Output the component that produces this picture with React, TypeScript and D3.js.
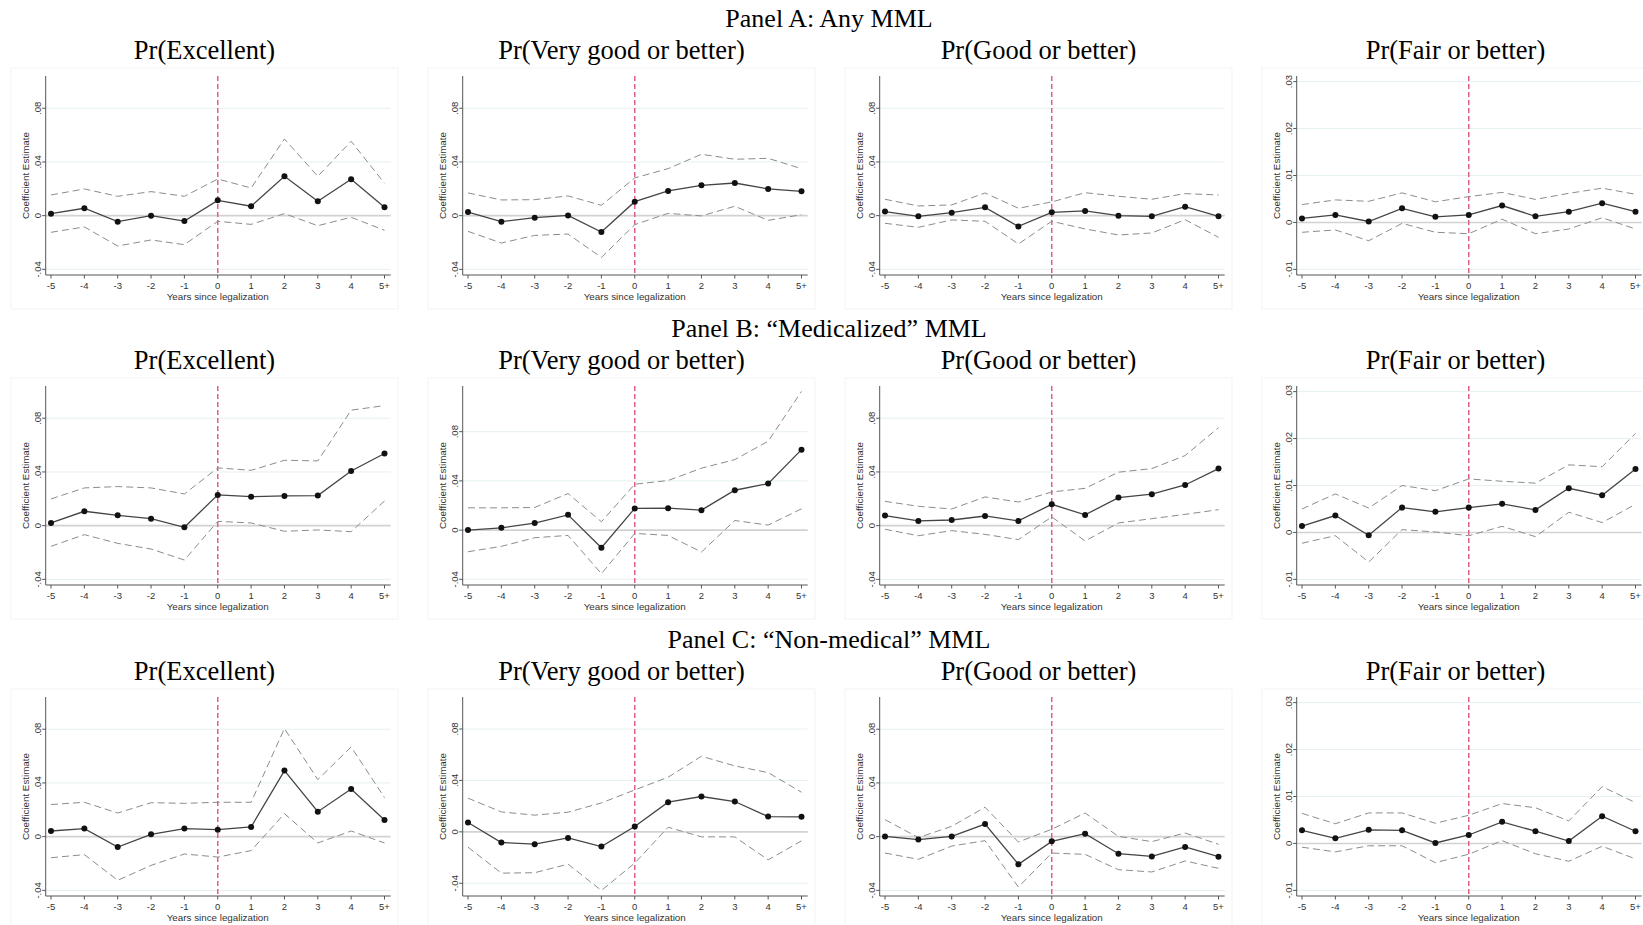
import React from 'react';
import * as d3 from 'd3';

// x categories and labels
const YEARS = ['-5', '-4', '-3', '-2', '-1', '0', '1', '2', '3', '4', '5+'];
const PANEL_TITLES = ['Panel A: Any MML', 'Panel B: \u201cMedicalized\u201d MML', 'Panel C: \u201cNon-medical\u201d MML'];
const OUTCOMES = ['Pr(Excellent)', 'Pr(Very good or better)', 'Pr(Good or better)', 'Pr(Fair or better)'];
const X_TITLE = 'Years since legalization';
const Y_TITLE = 'Coefficient Estimate';

const Y_TICKS_MAIN = [-0.04, 0, 0.04, 0.08];
const Y_LABELS_MAIN = ['-.04', '0', '.04', '.08'];
const Y_TICKS_FAIR = [-0.01, 0, 0.01, 0.02, 0.03];
const Y_LABELS_FAIR = ['-.01', '0', '.01', '.02', '.03'];

// Panel A: Any MML
const A1_EST = [0.0015, 0.0055, -0.0045, 0.0, -0.004, 0.0114, 0.007, 0.0293, 0.0107, 0.0271, 0.0062];
const A1_HI = [0.0154, 0.0199, 0.0144, 0.0179, 0.0144, 0.0273, 0.0206, 0.0571, 0.0293, 0.0554, 0.0241];
const A1_LO = [-0.0124, -0.0084, -0.0226, -0.0181, -0.0216, -0.0042, -0.0065, 0.0015, -0.0075, -0.0012, -0.0109];

const A2_EST = [0.0027, -0.0045, -0.0015, 0.0002, -0.0122, 0.0104, 0.0184, 0.0226, 0.0243, 0.0199, 0.0181];
const A2_HI = [0.0169, 0.0117, 0.0119, 0.0147, 0.0077, 0.0281, 0.035, 0.0457, 0.042, 0.0427, 0.035];
const A2_LO = [-0.0117, -0.0204, -0.0147, -0.0137, -0.0311, -0.0067, 0.0017, -0.0002, 0.007, -0.0035, 0.0007];

const A3_EST = [0.003, -0.0005, 0.0022, 0.0062, -0.008, 0.0025, 0.0035, 0.0, -0.0005, 0.0067, -0.0005];
const A3_HI = [0.0122, 0.0072, 0.008, 0.0169, 0.0055, 0.0102, 0.0171, 0.0144, 0.0122, 0.0164, 0.0154];
const A3_LO = [-0.0057, -0.0087, -0.0032, -0.0042, -0.0211, -0.0042, -0.0099, -0.0144, -0.0129, -0.003, -0.0161];

const A4_EST = [0.00085, 0.0016, 0.0002, 0.003, 0.0012, 0.0016, 0.0036, 0.0013, 0.0023, 0.0041, 0.0023];
const A4_HI = [0.0038, 0.0048, 0.0045, 0.0063, 0.0044, 0.0055, 0.0064, 0.0049, 0.0062, 0.0073, 0.006];
const A4_LO = [-0.0021, -0.0016, -0.0039, -0.0002, -0.0021, -0.0024, 0.0007, -0.0024, -0.0014, 0.001, -0.0014];

// Panel B: Medicalized MML
const B1_EST = [0.002, 0.0107, 0.0077, 0.0052, -0.0012, 0.0229, 0.0216, 0.0221, 0.0224, 0.0407, 0.0537];
const B1_HI = [0.0199, 0.0281, 0.0291, 0.0281, 0.0236, 0.043, 0.0412, 0.0487, 0.0482, 0.086, 0.0894];
const B1_LO = [-0.0154, -0.0067, -0.0132, -0.0174, -0.0256, 0.0032, 0.002, -0.0042, -0.0032, -0.0045, 0.0184];

const B2_EST = [0.0, 0.0019, 0.0057, 0.0124, -0.0143, 0.0176, 0.0178, 0.0162, 0.0324, 0.0378, 0.0654];
const B2_HI = [0.0181, 0.0181, 0.0184, 0.0297, 0.0068, 0.0373, 0.0403, 0.0503, 0.0573, 0.0722, 0.1127];
const B2_LO = [-0.0176, -0.0132, -0.0062, -0.0043, -0.0354, -0.0027, -0.0043, -0.0178, 0.0078, 0.0041, 0.0173];

const B3_EST = [0.0075, 0.0035, 0.0042, 0.0072, 0.0035, 0.0159, 0.008, 0.0209, 0.0234, 0.0303, 0.0425];
const B3_HI = [0.0181, 0.0144, 0.0124, 0.0214, 0.0176, 0.0251, 0.0278, 0.0398, 0.0425, 0.0522, 0.073];
const B3_LO = [-0.0027, -0.0075, -0.0037, -0.0065, -0.0104, 0.0065, -0.0114, 0.002, 0.0052, 0.0084, 0.0119];

const B4_EST = [0.00135, 0.0036, -0.0006, 0.0053, 0.0044, 0.0053, 0.0061, 0.0048, 0.0094, 0.0079, 0.0135];
const B4_HI = [0.005, 0.0082, 0.0052, 0.01, 0.0089, 0.0114, 0.0109, 0.0105, 0.0144, 0.014, 0.0211];
const B4_LO = [-0.0023, -0.0007, -0.0063, 0.0006, 0.0001, -0.0007, 0.0013, -0.0009, 0.0043, 0.0021, 0.006];

// Panel C: Non-medical MML
const C1_EST = [0.0042, 0.006, -0.0077, 0.0017, 0.006, 0.0052, 0.0072, 0.0492, 0.0186, 0.0355, 0.0124];
const C1_HI = [0.0239, 0.0256, 0.0176, 0.0253, 0.0248, 0.0256, 0.0256, 0.0805, 0.0425, 0.0668, 0.0291];
const C1_LO = [-0.0157, -0.0134, -0.0325, -0.0214, -0.0129, -0.0152, -0.0104, 0.0171, -0.0047, 0.0042, -0.0047];

const C2_EST = [0.0073, -0.0083, -0.0096, -0.0047, -0.0114, 0.0041, 0.0231, 0.0275, 0.0236, 0.0119, 0.0117];
const C2_HI = [0.0262, 0.0155, 0.013, 0.0153, 0.0225, 0.0326, 0.0425, 0.0588, 0.0513, 0.0461, 0.0308];
const C2_LO = [-0.0119, -0.0321, -0.0318, -0.0251, -0.0456, -0.0243, 0.0036, -0.0039, -0.0039, -0.0218, -0.007];

const C3_EST = [0.0002, -0.0022, 0.0002, 0.0094, -0.0206, -0.0035, 0.0022, -0.0127, -0.0147, -0.0077, -0.0149];
const C3_HI = [0.0127, -0.0007, 0.0077, 0.0219, -0.004, 0.0055, 0.0176, 0.0002, -0.0037, 0.0027, -0.0057];
const C3_LO = [-0.0122, -0.0169, -0.007, -0.003, -0.0375, -0.0122, -0.0132, -0.0246, -0.0263, -0.0181, -0.0236];

const C4_EST = [0.0028, 0.0011, 0.0029, 0.0028, 0.0001, 0.0018, 0.0046, 0.0026, 0.0005, 0.0058, 0.0026];
const C4_HI = [0.0064, 0.0042, 0.0065, 0.0065, 0.0043, 0.006, 0.0085, 0.0076, 0.0048, 0.0121, 0.0087];
const C4_LO = [-0.0008, -0.0018, -0.0005, -0.0005, -0.0041, -0.0023, 0.0006, -0.0022, -0.0038, -0.0006, -0.0033];

// y ranges of the plot regions (stata pads a little beyond the ticks)
const DOM_MAIN: [number, number] = [-0.0442, 0.104];
const DOM_FAIR: [number, number] = [-0.0112, 0.0312];

const PANELS = [
  [
    { est: A1_EST, hi: A1_HI, lo: A1_LO, domain: DOM_MAIN },
    { est: A2_EST, hi: A2_HI, lo: A2_LO, domain: DOM_MAIN },
    { est: A3_EST, hi: A3_HI, lo: A3_LO, domain: DOM_MAIN },
    { est: A4_EST, hi: A4_HI, lo: A4_LO, domain: DOM_FAIR },
  ],
  [
    { est: B1_EST, hi: B1_HI, lo: B1_LO, domain: DOM_MAIN },
    { est: B2_EST, hi: B2_HI, lo: B2_LO, domain: [-0.0446, 0.1171] as [number, number] },
    { est: B3_EST, hi: B3_HI, lo: B3_LO, domain: DOM_MAIN },
    { est: B4_EST, hi: B4_HI, lo: B4_LO, domain: DOM_FAIR },
  ],
  [
    { est: C1_EST, hi: C1_HI, lo: C1_LO, domain: DOM_MAIN },
    { est: C2_EST, hi: C2_HI, lo: C2_LO, domain: [-0.0499, 0.1049] as [number, number] },
    { est: C3_EST, hi: C3_HI, lo: C3_LO, domain: DOM_MAIN },
    { est: C4_EST, hi: C4_HI, lo: C4_LO, domain: DOM_FAIR },
  ],
];

const ROW_OFF = [0, 310, 621];
const COL_W = 417;
const SANS = '"Liberation Sans", Arial, sans-serif';
const SERIF = '"Liberation Serif", "Times New Roman", serif';

function Panel(props: any) {
  const { row, col, est, hi, lo, domain } = props;
  const fair = col === 3;
  const ticks = fair ? Y_TICKS_FAIR : Y_TICKS_MAIN;
  const labels = fair ? Y_LABELS_FAIR : Y_LABELS_MAIN;

  const axisX = 45.7 + COL_W * col;
  const top = 76 + ROW_OFF[row];
  const bottom = 275 + ROW_OFF[row];
  const right = axisX + 345;

  const x = d3.scalePoint<string>().domain(YEARS).range([axisX + 5.3, axisX + 338.8]);
  const y = d3.scaleLinear().domain(domain).range([bottom, top]);
  const line = d3.line<number>()
    .x((d, i) => x(YEARS[i]) as number)
    .y(d => y(d));

  return (
    <g>
      <rect x={axisX - 34.7} y={top - 8} width={387} height={241} fill="none" stroke="#f3f3f3" strokeWidth={1} />
      {ticks.map((t, i) => (
        t === 0 ? null :
        <line key={'g' + i} x1={axisX} x2={right} y1={y(t)} y2={y(t)} stroke="#e6f0f1" strokeWidth={1} />
      ))}
      <line x1={axisX} x2={right} y1={y(0)} y2={y(0)} stroke="#d2d2d2" strokeWidth={1.6} />
      <line x1={x('0')} x2={x('0')} y1={top} y2={bottom} stroke="#e0607f" strokeWidth={1.5} strokeDasharray="5 3" />
      <path d={line(hi) || ''} fill="none" stroke="#8c8c8c" strokeWidth={1} strokeDasharray="7 4" />
      <path d={line(lo) || ''} fill="none" stroke="#8c8c8c" strokeWidth={1} strokeDasharray="7 4" />
      <path d={line(est) || ''} fill="none" stroke="#444" strokeWidth={1.3} />
      {est.map((v: number, i: number) => (
        <circle key={'m' + i} cx={x(YEARS[i])} cy={y(v)} r={3} fill="#111" />
      ))}
      {/* axes */}
      <line x1={axisX} x2={axisX} y1={top} y2={bottom} stroke="#555" strokeWidth={1} />
      <line x1={axisX} x2={right} y1={bottom} y2={bottom} stroke="#555" strokeWidth={1} />
      {ticks.map((t, i) => (
        <g key={'yt' + i}>
          <line x1={axisX - 3.5} x2={axisX} y1={y(t)} y2={y(t)} stroke="#555" />
          <text transform={`translate(${axisX - 5},${y(t)}) rotate(-90)`} textAnchor="middle"
            fontFamily={SANS} fontSize={9.5} fill="#333">{labels[i]}</text>
        </g>
      ))}
      {YEARS.map(yr => (
        <g key={'xt' + yr}>
          <line x1={x(yr)} x2={x(yr)} y1={bottom} y2={bottom + 3.5} stroke="#555" />
          <text x={x(yr)} y={bottom + 14} textAnchor="middle" fontFamily={SANS} fontSize={9.5} fill="#333">{yr}</text>
        </g>
      ))}
      <text x={x('0')} y={bottom + 24.5} textAnchor="middle" fontFamily={SANS} fontSize={9.8} fill="#333">{X_TITLE}</text>
      <text transform={`translate(${axisX - 16.5},${(top + bottom) / 2}) rotate(-90)`} textAnchor="middle"
        fontFamily={SANS} fontSize={9.8} fill="#333">{Y_TITLE}</text>
    </g>
  );
}

export default function App() {
  return (
    <svg width={1643} height={925} style={{ position: 'absolute', left: 0, top: 0, display: 'block', background: '#fff' }}>
      {PANELS.map((rowPanels, r) => (
        <g key={'row' + r}>
          <text x={829} y={27 + ROW_OFF[r]} textAnchor="middle" fontFamily={SERIF} fontSize={26} fill="#000">
            {PANEL_TITLES[r]}
          </text>
          {OUTCOMES.map((o, c) => (
            <text key={'st' + c} x={204.5 + COL_W * c} y={59 + ROW_OFF[r]} textAnchor="middle"
              fontFamily={SERIF} fontSize={26.5} fill="#000">{o}</text>
          ))}
          {rowPanels.map((p, c) => (
            <Panel key={'p' + c} row={r} col={c} {...p} />
          ))}
        </g>
      ))}
    </svg>
  );
}
